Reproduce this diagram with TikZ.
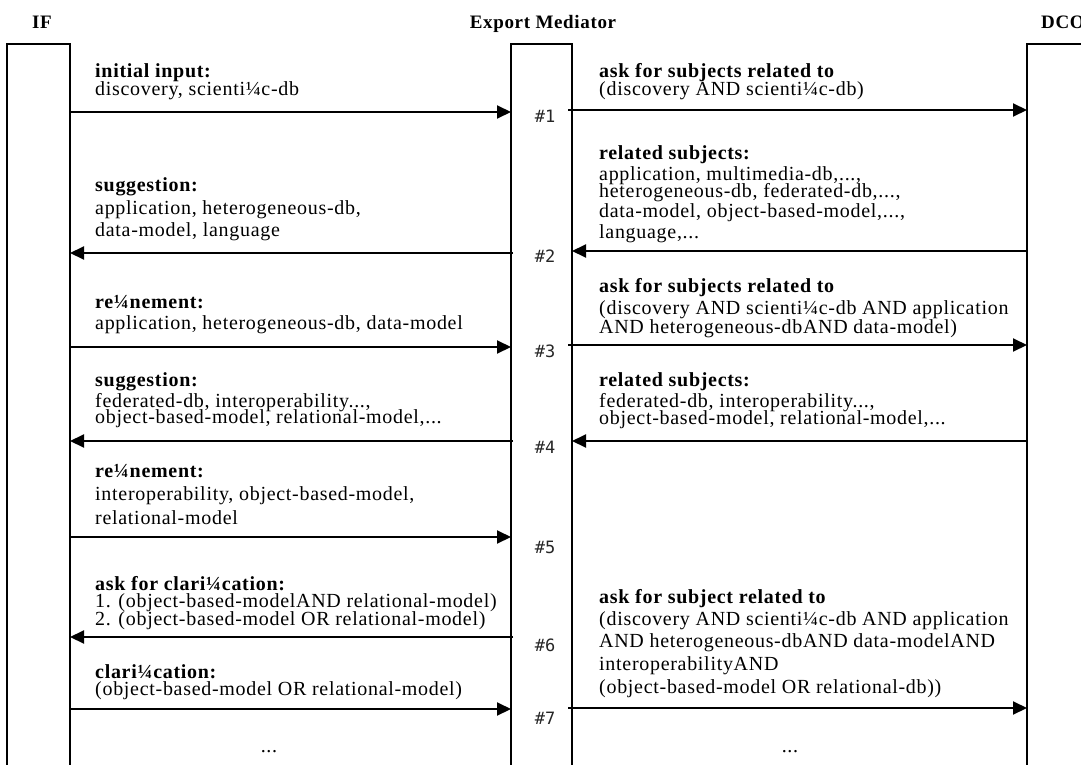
\documentclass[tikz,border=0pt]{standalone}
\usepackage{fontspec}
\setmainfont{Liberation Serif}[LetterSpace=3.5]
\newfontfamily\numfont{DejaVu Sans Mono}
\usetikzlibrary{arrows.meta}
\begin{document}
\begin{tikzpicture}[x=1pt,y=-1pt,
  txt/.style={anchor=base west, inner sep=0pt, font=\fontsize{20}{22}\selectfont},
  head/.style={anchor=base, inner sep=0pt, font=\fontsize{19}{22}\selectfont\bfseries},
  num/.style={inner sep=0pt, font=\numfont\fontsize{17}{19}\selectfont, text=black!85},
  life/.style={line width=2.6pt},
  msg/.style={line width=2pt, -{Triangle[length=14pt,width=13pt]}},
]
\useasboundingbox (0,0) rectangle (1081,765);
% headings
\node[head] (hIF) at (42,29) {IF};
\node[head] (hEM) at (543,29) {Export Mediator};
\node[head] (hDCO) at (1063,29) {DCO};
% lifelines
\draw[life] (7,765) -- (7,44) -- (70,44) -- (70,765);
\draw[life] (511,765) -- (511,44) -- (572,44) -- (572,765);
\draw[life] (1027,765) -- (1027,44) -- (1090,44);
% arrow end points
\foreach \n/\y in {1/112,2/253,3/347,4/441,5/537,6/637,7/709}{
  \coordinate (IF\n) at (70,\y);
  \coordinate (EMl\n) at (511,\y);
  \coordinate (EMli\n) at (513,\y);
}
\foreach \n/\y in {1/110,2/251,3/345,4/441,7/708}{
  \coordinate (EMr\n) at (572,\y);
  \coordinate (EMri\n) at (568,\y);
  \coordinate (DCO\n) at (1027,\y);
}
% messages IF <-> EM
\draw[msg] (IF1) -- (EMl1);
\draw[msg] (EMli2) -- (IF2);
\draw[msg] (IF3) -- (EMl3);
\draw[msg] (EMli4) -- (IF4);
\draw[msg] (IF5) -- (EMl5);
\draw[msg] (EMli6) -- (IF6);
\draw[msg] (IF7) -- (EMl7);
% messages EM <-> DCO
\draw[msg] (EMri1) -- (DCO1);
\draw[msg] (DCO2) -- (EMr2);
\draw[msg] (EMri3) -- (DCO3);
\draw[msg] (DCO4) -- (EMr4);
\draw[msg] (EMri7) -- (DCO7);
% step numbers
\node[num] (n1) at (545,116) {\#1};
\node[num] (n2) at (545,256) {\#2};
\node[num] (n3) at (545,351) {\#3};
\node[num] (n4) at (545,447) {\#4};
\node[num] (n5) at (545,547) {\#5};
\node[num] (n6) at (545,645) {\#6};
\node[num] (n7) at (545,718) {\#7};
% left texts
\node[txt] (a1) at (95,78) {\textbf{initial input:}};
\node[txt] (a2) at (95,96) {discovery, scienti¼c-db};
\node[txt] (b1) at (95,191) {\textbf{suggestion:}};
\node[txt] (b2) at (95,214) {application, heterogeneous-db,};
\node[txt] (b3) at (95,236) {data-model, language};
\node[txt] (c1) at (95,308) {\textbf{re¼nement:}};
\node[txt] (c2) at (95,329) {application, heterogeneous-db, data-model};
\node[txt] (d1) at (95,386) {\textbf{suggestion:}};
\node[txt] (d2) at (95,407) {federated-db, interoperability...,};
\node[txt] (d3) at (95,423) {object-based-model, relational-model,...};
\node[txt] (e1) at (95,477) {\textbf{re¼nement:}};
\node[txt] (e2) at (95,500) {interoperability, object-based-model,};
\node[txt] (e3) at (95,524) {relational-model};
\node[txt] (f1) at (95,590) {\textbf{ask for clari¼cation:}};
\node[txt] (f2) at (95,607) {1. (object-based-modelAND relational-model)};
\node[txt] (f3) at (95,625) {2. (object-based-model OR relational-model)};
\node[txt] (g1) at (95,678) {\textbf{clari¼cation:}};
\node[txt] (g2) at (95,695) {(object-based-model OR relational-model)};
\node[txt, anchor=base] (gdots) at (269,752) {...};
% right texts
\node[txt] (p1) at (599,78) {\textbf{ask for subjects related to}};
\node[txt] (p2) at (599,96) {(discovery AND scienti¼c-db)};
\node[txt] (q1) at (599,159) {\textbf{related subjects:}};
\node[txt] (q2) at (599,180) {application, multimedia-db,...,};
\node[txt] (q3) at (599,197) {heterogeneous-db, federated-db,...,};
\node[txt] (q4) at (599,217) {data-model, object-based-model,...,};
\node[txt] (q5) at (599,238) {language,...};
\node[txt] (r1) at (599,292) {\textbf{ask for subjects related to}};
\node[txt] (r2) at (599,314) {(discovery AND scienti¼c-db AND application};
\node[txt] (r3) at (599,333) {AND heterogeneous-dbAND data-model)};
\node[txt] (s1) at (599,386) {\textbf{related subjects:}};
\node[txt] (s2) at (599,407) {federated-db, interoperability...,};
\node[txt] (s3) at (599,424) {object-based-model, relational-model,...};
\node[txt] (t1) at (599,603) {\textbf{ask for subject related to}};
\node[txt] (t2) at (599,625) {(discovery AND scienti¼c-db AND application};
\node[txt] (t3) at (599,647) {AND heterogeneous-dbAND data-modelAND};
\node[txt] (t4) at (599,670) {interoperabilityAND};
\node[txt] (t5) at (599,693) {(object-based-model OR relational-db))};
\node[txt, anchor=base] (tdots) at (790,752) {...};
\end{tikzpicture}
\end{document}
